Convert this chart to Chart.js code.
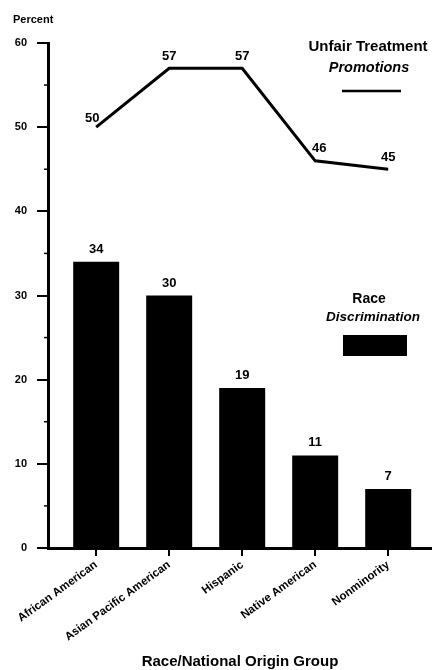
<!DOCTYPE html>
<html>
<head>
<meta charset="utf-8">
<script src="https://cdn.jsdelivr.net/npm/chart.js@4/dist/chart.umd.min.js"></script>
<style>
  html, body { margin: 0; padding: 0; background: #fff; }
  #wrap { width: 432px; height: 670px; position: relative; }
</style>
</head>
<body>
<div id="wrap"><canvas id="chart"></canvas></div>
<script>
// data
const groups = ['African American', 'Asian Pacific American', 'Hispanic', 'Native American', 'Nonminority'];
const raceDiscrimination = [34, 30, 19, 11, 7];
const unfairPromotions = [50, 57, 57, 46, 45];
const yTicks = [0, 10, 20, 30, 40, 50, 60];

const FONT = "'Liberation Sans', Arial, sans-serif";

// value labels, legend and titles
const extras = {
    id: 'extras',
    afterDatasetsDraw(chart) {
        const ctx = chart.ctx;
        const y = chart.scales.y;
        ctx.save();
        ctx.fillStyle = '#000';
        ctx.textAlign = 'center';
        ctx.textBaseline = 'alphabetic';
        ctx.font = 'bold 13px ' + FONT;

        // bar labels
        chart.getDatasetMeta(0).data.forEach((bar, i) => {
            ctx.fillText(raceDiscrimination[i], bar.x, bar.y - 9);
        });

        // line labels
        chart.getDatasetMeta(1).data.forEach((pt, i) => {
            let dx = 0, dy = -8;
            if (i === 0) { dx = -4; dy = -5; }
            if (i === 3) { dx = 4; dy = -9; }
            ctx.fillText(unfairPromotions[i], pt.x + dx, pt.y + dy);
        });

        // minor ticks at the fives
        ctx.strokeStyle = '#000';
        ctx.lineWidth = 1.5;
        for (let v = 5; v < 60; v += 10) {
            const py = y.getPixelForValue(v);
            ctx.beginPath();
            ctx.moveTo(chart.chartArea.left - 4, py);
            ctx.lineTo(chart.chartArea.left, py);
            ctx.stroke();
        }

        // y title
        ctx.font = 'bold 11px ' + FONT;
        ctx.textAlign = 'left';
        ctx.fillText('Percent', 13, 23);

        // legend: line
        ctx.textAlign = 'center';
        ctx.font = 'bold 15px ' + FONT;
        ctx.fillText('Unfair Treatment', 368, 51);
        ctx.font = 'italic bold 14.5px ' + FONT;
        ctx.fillText('Promotions', 369, 72);
        ctx.lineWidth = 2.5;
        ctx.beginPath();
        ctx.moveTo(342, 91);
        ctx.lineTo(401, 91);
        ctx.stroke();

        // legend: bars
        ctx.font = 'bold 14px ' + FONT;
        ctx.fillText('Race', 369, 303);
        ctx.font = 'italic bold 13.5px ' + FONT;
        ctx.fillText('Discrimination', 373, 321);
        ctx.fillRect(343, 335, 64, 21);

        // x title
        ctx.font = 'bold 15px ' + FONT;
        ctx.fillText('Race/National Origin Group', 240, 666);
        ctx.restore();
    }
};

new Chart(document.getElementById('chart'), {
    data: {
        datasets: [
            {
                type: 'bar',
                label: 'Race Discrimination',
                data: raceDiscrimination.map((v, i) => ({ x: i, y: v })),
                backgroundColor: '#000',
                categoryPercentage: 1,
                barPercentage: 0.63,
                order: 2
            },
            {
                type: 'line',
                label: 'Unfair Treatment Promotions',
                data: unfairPromotions.map((v, i) => ({ x: i, y: v })),
                borderColor: '#000',
                borderWidth: 3,
                pointRadius: 0,
                tension: 0,
                order: 1
            }
        ]
    },
    options: {
        responsive: true,
        maintainAspectRatio: false,
        animation: false,
        devicePixelRatio: 1,
        layout: { padding: { top: 43, right: 0, bottom: 0, left: 0 } },
        plugins: {
            legend: { display: false },
            tooltip: { enabled: false }
        },
        scales: {
            x: {
                type: 'linear',
                offset: false,
                min: -0.66,
                max: 4.6,
                afterBuildTicks: (s) => { s.ticks = groups.map((g, i) => ({ value: i })); },
                afterFit: (s) => { s.height = 122; },
                border: { display: true, color: '#000', width: 3 },
                grid: { offset: false, drawOnChartArea: false, drawTicks: true, tickLength: 8, color: '#000', lineWidth: 2 },
                ticks: {
                    color: '#000',
                    font: { family: FONT, size: 11.5, weight: 'bold' },
                    minRotation: 36,
                    maxRotation: 36,
                    padding: 2,
                    autoSkip: false,
                    callback: (v) => groups[v]
                }
            },
            y: {
                min: 0,
                max: 60,
                afterBuildTicks: (s) => { s.ticks = yTicks.map(v => ({ value: v })); },
                afterFit: (s) => { s.width = 48; },
                border: { display: true, color: '#000', width: 3 },
                grid: { drawOnChartArea: false, drawTicks: true, tickLength: 11, color: '#000', lineWidth: 2 },
                ticks: {
                    color: '#000',
                    font: { family: FONT, size: 11, weight: 'bold' },
                    padding: 10
                }
            }
        }
    },
    plugins: [extras]
});
</script>
</body>
</html>
